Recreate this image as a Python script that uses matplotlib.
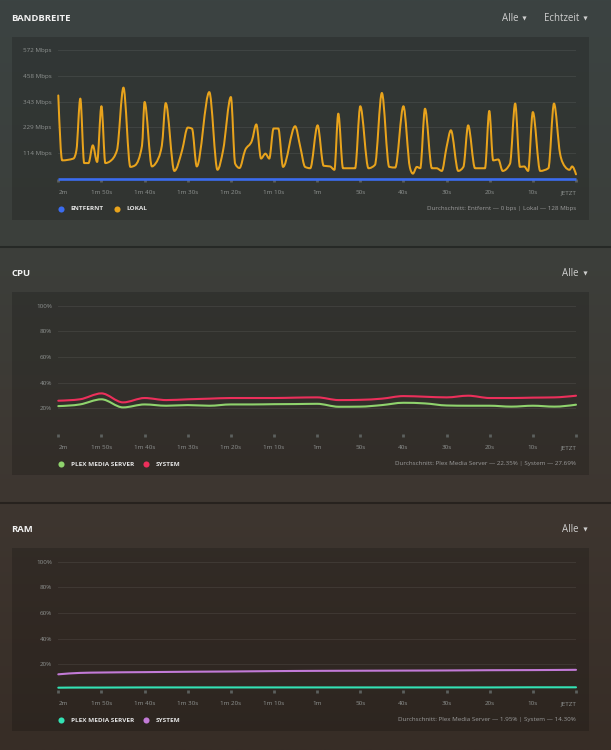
import numpy as np
import matplotlib
matplotlib.use("Agg")
import matplotlib.pyplot as plt
from matplotlib.path import Path
from matplotlib.patches import PathPatch, Rectangle
from matplotlib.lines import Line2D
from matplotlib.colors import LinearSegmentedColormap

plt.rcParams['font.family'] = ['Open Sans', 'DejaVu Sans']

# ---------------- data ----------------
x_ticks = [120, 110, 100, 90, 80, 70, 60, 50, 40, 30, 20, 10, 0]
x_tick_labels = ["2m", "1m 50s", "1m 40s", "1m 30s", "1m 20s", "1m 10s", "1m",
                 "50s", "40s", "30s", "20s", "10s", "JETZT"]

bw_ticks = [114.4, 228.8, 343.2, 457.6, 572]
bw_tick_labels = ["114 Mbps", "229 Mbps", "343 Mbps", "458 Mbps", "572 Mbps"]
pct_ticks = [20, 40, 60, 80, 100]
pct_tick_labels = ["20%", "40%", "60%", "80%", "100%"]

lokal_sec = [120, 119.1, 116.5, 115.8, 114.9, 114.0, 113.0, 112.0, 111.0, 110.0,
             109.1, 108.0, 106.4, 104.9, 103.3, 102.2, 100.6, 100.0, 98.3, 97.5,
             96.0, 95.1, 93.1, 91.3, 90.0, 89.0, 87.9, 85.0, 83.1, 81.8,
             80.0, 79.0, 78.0, 76.7, 75.1, 74.1, 73.0, 72.0, 71.1, 70.1,
             69.0, 67.9, 65.1, 63.9, 62.8, 61.6, 59.9, 58.5, 57.0, 56.0,
             55.1, 54.0, 51.2, 50.0, 48.1, 46.6, 45.0, 43.3, 41.9, 40.0,
             38.5, 37.8, 36.9, 36.1, 35.0, 33.4, 32.3, 31.1, 30.0, 29.0,
             27.3, 26.1, 25.0, 23.4, 21.1, 20.1, 19.2, 18.0, 17.0, 15.3,
             14.1, 13.0, 12.0, 11.1, 10.0, 8.3, 6.4, 5.1, 3.7, 2.5,
             1.5, 0.9, 0]
lokal_mbps = [371, 82, 90, 127, 357, 70, 70, 149, 75, 323,
              70, 78, 127, 406, 53, 60, 147, 342, 55, 67,
              147, 337, 35, 127, 228, 223, 55, 386, 40, 127,
              364, 67, 48, 127, 171, 242, 90, 112, 90, 224,
              224, 53, 234, 141, 53, 47, 238, 58, 55, 40,
              290, 47, 47, 323, 47, 62, 382, 53, 50, 323,
              50, 23, 53, 47, 312, 47, 47, 35, 141, 216,
              35, 53, 238, 47, 47, 302, 82, 86, 35, 67,
              335, 53, 55, 35, 297, 35, 47, 335, 112, 53,
              40, 55, 20]
remote_sec = [120, 0]
remote_mbps = [0, 0]

cpu_sec = [120, 115, 110, 105, 100, 95, 90, 85, 80, 75, 70, 65, 60,
           55, 50, 45, 40, 35, 30, 25, 20, 15, 10, 5, 0]
cpu_system = [25.9, 27.0, 31.6, 24.6, 28.0, 26.4, 27.0, 27.5, 28.0, 28.0, 28.0, 28.3, 28.5,
              26.4, 26.6, 27.5, 29.5, 29.0, 28.5, 29.8, 28.0, 28.0, 28.3, 28.5, 29.8]
cpu_plex = [21.7, 23.0, 27.0, 20.7, 23.0, 22.0, 22.5, 22.0, 23.0, 23.0, 23.2, 23.3, 23.5,
            21.2, 21.3, 22.5, 24.3, 23.8, 22.2, 22.0, 22.0, 21.3, 22.0, 21.3, 22.8]

ram_sec = [120, 115, 110, 100, 90, 80, 70, 60, 50, 40, 30, 20, 10, 0]
ram_system = [12.2, 13.3, 13.6, 13.9, 14.2, 14.4, 14.7, 14.9, 15.0, 15.1, 15.2, 15.4, 15.5, 15.7]
ram_plex = [1.8, 1.9, 1.9, 2.0, 2.0, 2.0, 2.0, 2.0, 2.0, 2.0, 2.0, 2.0, 2.1, 2.1]

# ---------------- helpers ----------------
W, H = 611, 750
fig = plt.figure(figsize=(W / 100, H / 100), dpi=100)


def fx(x):
    return x / W


def fy(y):
    return 1 - y / H


def monotone_path(xs, ys):
    x = np.asarray(xs, float)
    y = np.asarray(ys, float)
    o = np.argsort(x)
    x, y = x[o], y[o]
    h = np.diff(x)
    s = np.diff(y) / h
    n = len(x)
    t = np.zeros(n)
    for i in range(1, n - 1):
        h0, h1, s0, s1 = h[i - 1], h[i], s[i - 1], s[i]
        p = (s0 * h1 + s1 * h0) / (h0 + h1)
        t[i] = (np.sign(s0) + np.sign(s1)) * min(abs(s0), abs(s1), 0.5 * abs(p))
    if n > 2:
        t[0] = (3 * s[0] - t[1]) / 2
        t[-1] = (3 * s[-1] - t[-2]) / 2
    else:
        t[:] = s[0]
    verts = [(x[0], y[0])]
    codes = [Path.MOVETO]
    for i in range(n - 1):
        dx = h[i] / 3
        verts += [(x[i] + dx, y[i] + dx * t[i]),
                  (x[i + 1] - dx, y[i + 1] - dx * t[i + 1]),
                  (x[i + 1], y[i + 1])]
        codes += [Path.CURVE4] * 3
    return Path(verts, codes)


def smooth_line(ax, xs, ys, color, lw):
    patch = PathPatch(monotone_path(xs, ys), fill=False, edgecolor=color, lw=lw,
                      capstyle='round', joinstyle='round', zorder=3)
    patch.set_clip_on(False)
    ax.add_patch(patch)


# ---------------- background ----------------
bg = fig.add_axes([0, 0, 1, 1])
bg.set_zorder(-5)
bg.axis('off')
cmap = LinearSegmentedColormap.from_list(
    'bg', [(0, '#3b4342'), (0.33, '#3c3f3b'), (0.67, '#3e3630'), (1, '#372d26')])
bg.imshow(np.linspace(0, 1, 256).reshape(-1, 1), aspect='auto', cmap=cmap,
          extent=[0, 1, 0, 1], origin='upper')

for ysep in (247, 503):
    fig.add_artist(Line2D([0, 1], [fy(ysep)] * 2, color='black', alpha=0.35, lw=1.5,
                          transform=fig.transFigure, zorder=-3))

TICKC = '#8e9290'


def panel(card_top, title, ylim, yticks, ylabels, menus):
    fig.add_artist(Rectangle((fx(11.5), fy(card_top + 183.3)), fx(589 - 11.5), 183.3 / H,
                             transform=fig.transFigure, facecolor='black', alpha=0.17,
                             edgecolor='none', zorder=-2))
    fig.text(fx(11), fy(card_top - 18.2), title, fontsize=6.8, fontweight='bold',
             color='#f2f2f2', va='center', ha='left')
    for label, xr, xtri in menus:
        fig.text(fx(xr), fy(card_top - 18.2), label, fontsize=6.9, color='#cfcfcf',
                 va='center', ha='right')
        fig.add_artist(Line2D([fx(xtri)], [fy(card_top - 18.6)], marker='v', ms=3.0,
                              color='#cfcfcf', mec='none', transform=fig.transFigure))
    top = card_top + 13.8
    base = card_top + 142.3
    ax = fig.add_axes([fx(58.3), fy(base), fx(576 - 58.3), (base - top) / H])
    ax.set_zorder(1)
    ax.set_facecolor('none')
    ax.set_xlim(120, 0)
    ax.set_ylim(*ylim)
    for sp in ax.spines.values():
        sp.set_visible(False)
    ax.set_yticks(yticks, ylabels)
    ax.grid(axis='y', color='white', alpha=0.07, lw=0.8)
    ax.axhline(0, color='white', alpha=0.07, lw=0.8)
    ax.tick_params(axis='y', length=0, pad=4.7, labelsize=4.5, labelcolor=TICKC)
    ax.set_xticks(x_ticks, x_tick_labels)
    ax.tick_params(axis='x', length=2.0, width=2.0, color='#5c605e', pad=6.0,
                   labelsize=4.5, labelcolor=TICKC)
    lbls = ax.get_xticklabels()
    lbls[0].set_ha('left')
    lbls[-1].set_ha('right')
    return ax, card_top + 172.3


def legend(ly, entries, avg_text):
    for (xd, xt, color, text) in entries:
        fig.add_artist(Line2D([fx(xd)], [fy(ly)], marker='o', ms=4.4, color=color,
                              mec='none', transform=fig.transFigure))
        fig.text(fx(xt), fy(ly), text, fontsize=4.6, fontweight='bold', color='#e4e4e4',
                 va='center', ha='left')
    fig.text(fx(576), fy(ly), avg_text, fontsize=4.5, color='#9b9b9b', va='center', ha='right')


# ---------------- Bandbreite ----------------
ax1, ly1 = panel(36.5, 'BANDBREITE', (0, 572), bw_ticks, bw_tick_labels,
                 [('Alle', 519, 523.7), ('Echtzeit', 579, 585)])
smooth_line(ax1, lokal_sec, lokal_mbps, '#e8a31c', 1.45)
ax1.plot(remote_sec, remote_mbps, color='#3b6cf0', lw=1.9, solid_capstyle='butt',
         clip_on=False, zorder=4)
legend(ly1, [(61, 70.7, '#3b6cf0', 'ENTFERNT'), (116.7, 126.7, '#e8a31c', 'LOKAL')],
       'Durchschnitt: Entfernt — 0 bps | Lokal — 128 Mbps')

# ---------------- CPU ----------------
ax2, ly2 = panel(291.7, 'CPU', (0, 100), pct_ticks, pct_tick_labels,
                 [('Alle', 579, 585)])
smooth_line(ax2, cpu_sec, cpu_system, '#ec2f5b', 1.5)
smooth_line(ax2, cpu_sec, cpu_plex, '#8fd36d', 1.5)
legend(ly2, [(61, 70.7, '#8fd36d', 'PLEX MEDIA SERVER'), (145.7, 155.7, '#ec2f5b', 'SYSTEM')],
       'Durchschnitt: Plex Media Server — 22.35% | System — 27.69%')

# ---------------- RAM ----------------
ax3, ly3 = panel(547.7, 'RAM', (0, 100), pct_ticks, pct_tick_labels,
                 [('Alle', 579, 585)])
smooth_line(ax3, ram_sec, ram_system, '#c27ad6', 1.5)
smooth_line(ax3, ram_sec, ram_plex, '#33e2b4', 1.5)
legend(ly3, [(61, 70.7, '#33e2b4', 'PLEX MEDIA SERVER'), (145.7, 155.7, '#c27ad6', 'SYSTEM')],
       'Durchschnitt: Plex Media Server — 1.95% | System — 14.30%')

fig.savefig('out.png', dpi=100)
